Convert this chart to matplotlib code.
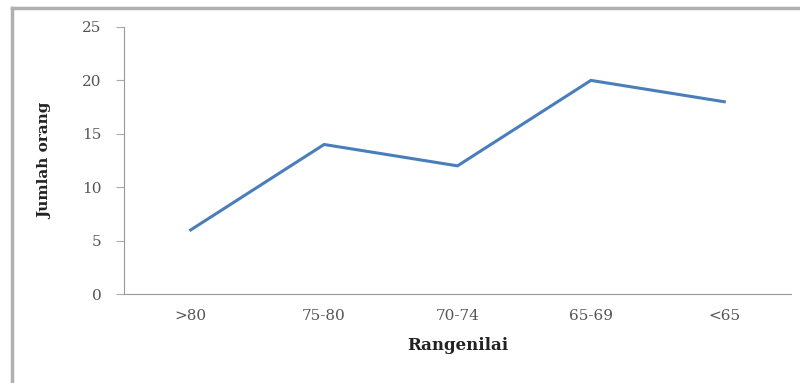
import matplotlib
matplotlib.use('Agg')
import matplotlib.pyplot as plt
from matplotlib.lines import Line2D

categories = ['>80', '75-80', '70-74', '65-69', '<65']
jumlah = [6, 14, 12, 20, 18]
yticks = [0, 5, 10, 15, 20, 25]

plt.rcParams['font.family'] = 'DejaVu Serif'

fig = plt.figure(figsize=(8, 3.83), dpi=100)
ax = fig.add_axes([124/800, 1 - 294/383, 667/800, 267/383])

x = list(range(len(categories)))
ax.plot(x, jumlah, color='#4a7ebb', linewidth=2.2, solid_joinstyle='miter')

ax.set_xlim(-0.5, len(categories) - 0.5)
ax.set_ylim(0, 25)
ax.set_yticks(yticks)
ax.set_xticks(x)
ax.set_xticklabels(categories)

ax.spines['top'].set_visible(False)
ax.spines['right'].set_visible(False)
ax.spines['left'].set_color('#999999')
ax.spines['bottom'].set_color('#999999')
ax.tick_params(axis='y', length=6, color='#aaaaaa', labelcolor='#555555',
               labelsize=11, pad=10)
ax.tick_params(axis='x', length=0, labelcolor='#555555', labelsize=11, pad=11)

ax.set_xlabel('Rangenilai', fontsize=12, fontweight='bold', color='#222222', labelpad=10)
ax.set_ylabel('Jumlah orang', fontsize=11, fontweight='bold', color='#222222', labelpad=22)

# outer frame around the chart area
fig.add_artist(Line2D([12/800, 12/800], [0, 1 - 8/383], color='#b0b0b0', linewidth=2.5))
fig.add_artist(Line2D([12/800, 1], [1 - 8/383, 1 - 8/383], color='#b0b0b0', linewidth=2.5))

fig.savefig('out.png', dpi=100)
